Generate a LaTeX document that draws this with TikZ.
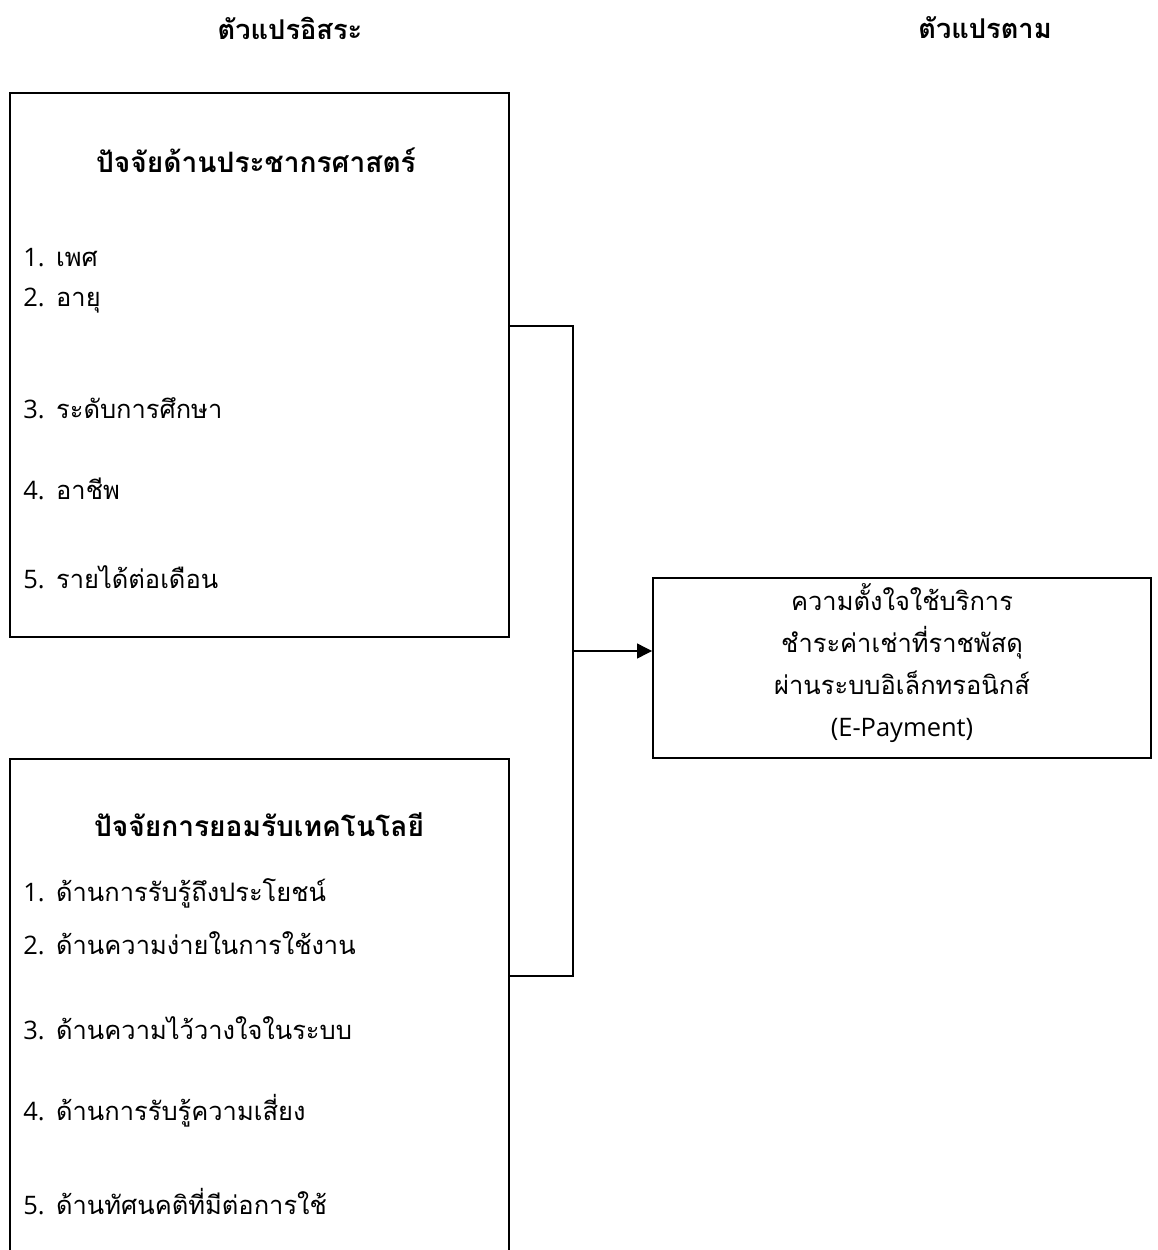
\documentclass[tikz,border=0pt]{standalone}
\usepackage{fontspec}
\setmainfont[Script=Thai]{Loma}
\newfontfamily\latinfont{Open Sans}
\usetikzlibrary{positioning,arrows.meta}
\tikzset{
    factor box/.style={rectangle, draw, line width=1.1pt, inner sep=0pt},
    var label/.style={font=\bfseries\fontsize{15.5}{18}\selectfont},
    box title/.style={font=\bfseries\fontsize{16}{18}\selectfont},
    item/.style={anchor=base west, inner sep=0pt, font=\fontsize{14.5}{18}\selectfont},
    outcome text/.style={align=center, inner sep=0pt, font=\fontsize{14.5}{18}\selectfont},
    link/.style={line width=0.7pt},
    link arrow/.style={link, -{Triangle[length=0.3cm, width=0.3cm]}}
}
\newcommand{\num}[1]{{\latinfont #1}}

\begin{document}
\begin{tikzpicture}[x=0.02cm, y=-0.02cm]
    \useasboundingbox (0,0) rectangle (1157,1250);

    % Column headings
    \node[var label] (indep) at (290,28) {ตัวแปรอิสระ};
    \node[var label] (dep) at (985,28) {ตัวแปรตาม};

    % Demographic factors
    \node[factor box, minimum width=499*0.02cm, minimum height=544*0.02cm] (demo) at (259.5,365) {};
    \node[box title] (demotitle) at (256,160) {ปัจจัยด้านประชากรศาสตร์};
    \node[item] (d1) at (23,266) {\num{1.} เพศ};
    \node[item] (d2) at (23,306) {\num{2.} อายุ};
    \node[item] (d3) at (23,418) {\num{3.} ระดับการศึกษา};
    \node[item] (d4) at (23,499) {\num{4.} อาชีพ};
    \node[item] (d5) at (23,588) {\num{5.} รายได้ต่อเดือน};

    % Technology acceptance factors (box runs off the page)
    \node[factor box, minimum width=499*0.02cm, minimum height=560*0.02cm] (tech) at (259.5,1039) {};
    \node[box title] (techtitle) at (259,825) {ปัจจัยการยอมรับเทคโนโลยี};
    \node[item] (t1) at (23,901) {\num{1.} ด้านการรับรู้ถึงประโยชน์};
    \node[item] (t2) at (23,954) {\num{2.} ด้านความง่ายในการใช้งาน};
    \node[item] (t3) at (23,1039) {\num{3.} ด้านความไว้วางใจในระบบ};
    \node[item] (t4) at (23,1120) {\num{4.} ด้านการรับรู้ความเสี่ยง};
    \node[item] (t5) at (23,1214) {\num{5.} ด้านทัศนคติที่มีต่อการใช้};

    % Dependent variable
    \node[factor box, minimum width=498*0.02cm, minimum height=180*0.02cm] (intent) at (902,668) {};
    \node[outcome text] (intenttext) at (902,663)
        {ความตั้งใจใช้บริการ\\[6pt]ชำระค่าเช่าที่ราชพัสดุ\\[6pt]ผ่านระบบอิเล็กทรอนิกส์\\[6pt]{\latinfont (E-Payment)}};

    % Connectors
    \coordinate (jtop) at (573,326);
    \coordinate (jbot) at (573,976);
    \coordinate (jmid) at (573,651);
    \draw[link] (demo.east |- jtop) -- (jtop) -- (jbot) -- (tech.east |- jbot);
    \draw[link arrow] (jmid) -- (intent.west |- jmid);
\end{tikzpicture}
\end{document}
